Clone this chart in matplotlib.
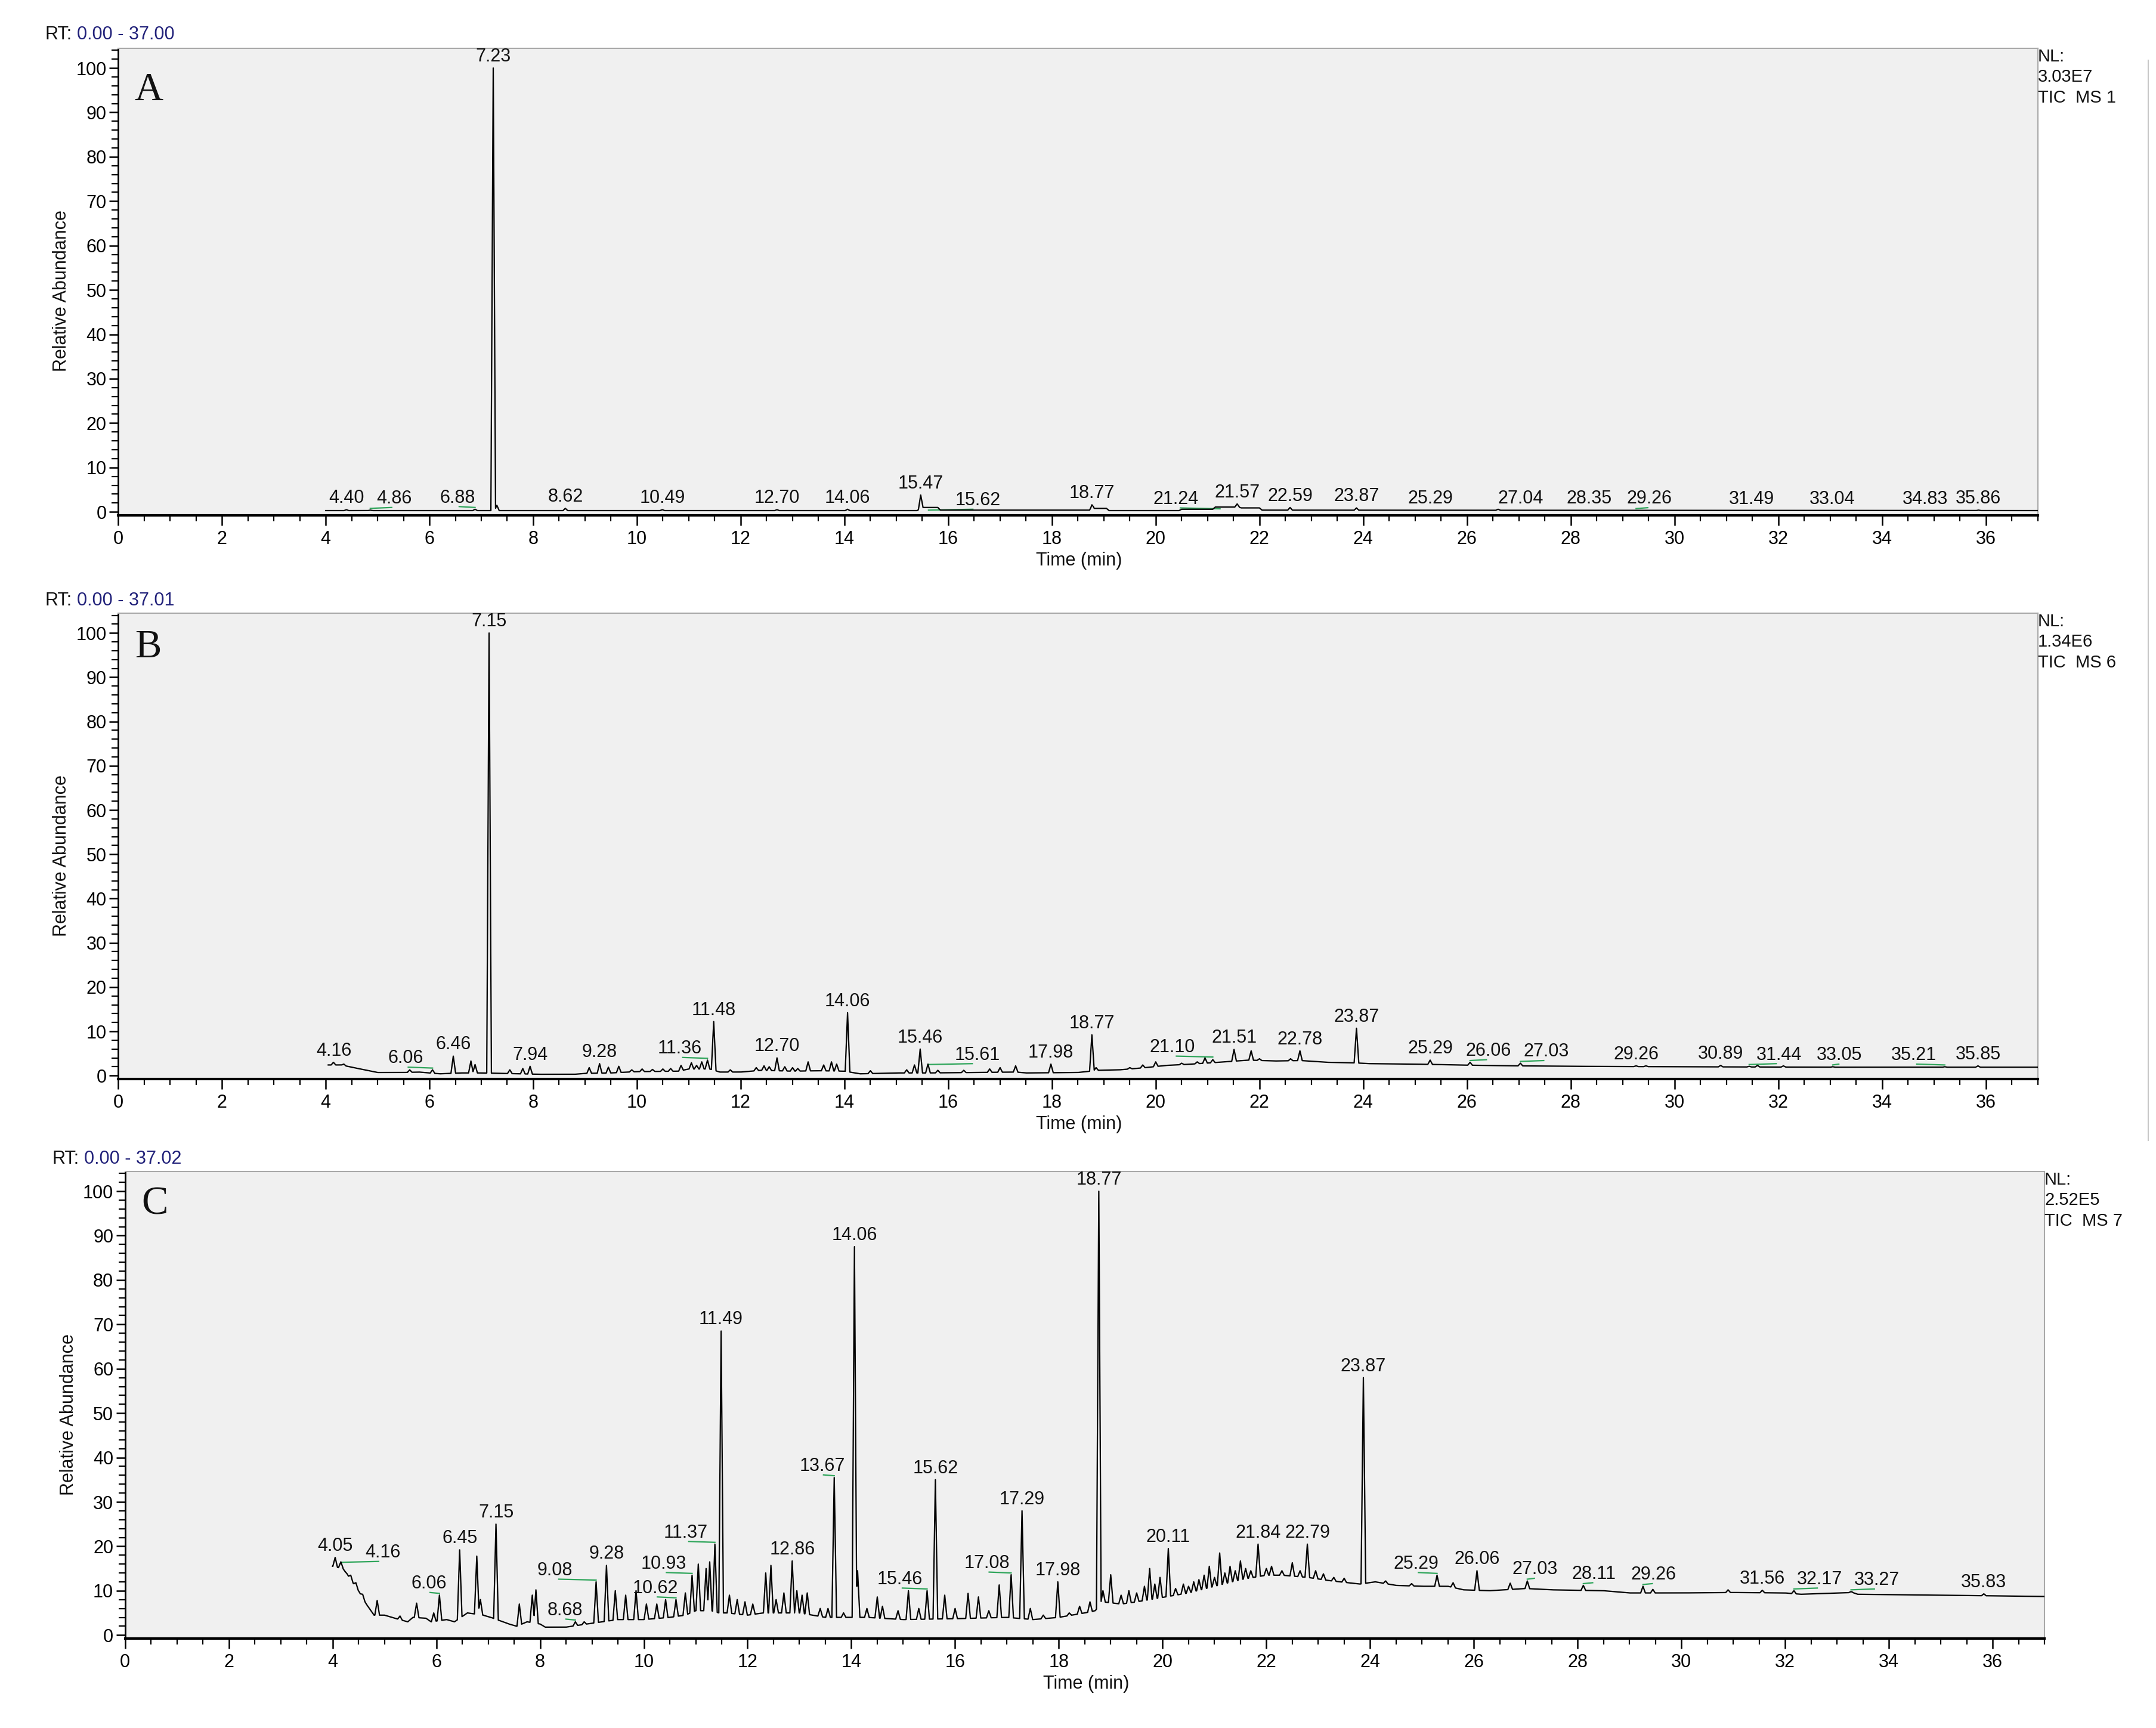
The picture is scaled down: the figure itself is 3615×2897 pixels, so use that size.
"""Three TIC chromatograms (A, B, C), Xcalibur-style layout."""
import numpy as np
import matplotlib
matplotlib.use("Agg")
import matplotlib.pyplot as plt
from matplotlib.ticker import MultipleLocator

plt.rcParams.update({"font.family": ["Liberation Sans", "DejaVu Sans"], "font.size": 22,
                     "text.color": "#111111"})

# ---- data: (time min, relative abundance) ----
a_baseline = [(4.0, 0.3), (15.4, 0.3), (15.5, 1.0), (15.8, 1.0), (15.85, 0.4), (18.75, 0.4),
              (18.8, 0.8), (19.05, 0.8), (19.1, 0.3), (20.45, 0.3), (20.5, 0.6), (21.1, 0.6),
              (21.15, 1.1), (21.6, 1.1), (21.65, 0.9), (22.0, 0.9), (22.05, 0.4), (37.0, 0.3)]
a_peaks = [(4.40, 0.5), (4.86, 0.4), (6.88, 0.6), (7.23, 100), (7.30, 1.5), (8.62, 0.8),
           (10.49, 0.5), (12.70, 0.5), (14.06, 0.6), (15.47, 3.8), (18.77, 1.6), (21.57, 1.8),
           (22.59, 1.0), (23.87, 0.9), (26.6, 0.6), (35.86, 0.4)]
a_labels = ["4.40", "4.86", "6.88", "7.23", "8.62", "10.49", "12.70", "14.06", "15.47", "15.62",
            "18.77", "21.24", "21.57", "22.59", "23.87", "25.29", "27.04", "28.35", "29.26",
            "31.49", "33.04", "34.83", "35.86"]

b_baseline = [(4.05, 2.4), (4.3, 2.4), (4.5, 1.9), (4.75, 1.3), (5.0, 0.7), (5.5, 0.7), (5.8, 0.8),
              (6.2, 0.4), (6.6, 0.6), (7.0, 0.6), (7.4, 0.5), (8.1, 0.3), (8.8, 0.3), (9.0, 0.5),
              (9.5, 0.6), (10.0, 0.9), (10.8, 1.0), (11.0, 1.5), (11.4, 1.5), (11.6, 0.8),
              (12.0, 0.8), (12.4, 1.2), (13.0, 1.0), (13.5, 1.1), (14.0, 1.0), (14.3, 0.4),
              (15.0, 0.6), (15.6, 0.6), (16.5, 0.7), (17.3, 0.8), (17.5, 0.6), (18.5, 0.7),
              (18.9, 1.2), (19.3, 1.3), (19.8, 1.8), (20.2, 2.3), (20.7, 2.6), (21.2, 3.0),
              (21.8, 3.5), (22.3, 3.3), (22.8, 3.4), (23.3, 3.0), (23.8, 2.9), (24.1, 2.7),
              (25.0, 2.6), (25.8, 2.4), (26.3, 2.3), (27.0, 2.2), (28.0, 2.1), (30.0, 2.0),
              (33.0, 1.9), (37.0, 1.9)]
b_peaks = [(4.15, 3.0), (4.35, 2.6), (5.62, 1.3), (6.06, 1.3), (6.46, 4.4), (6.8, 3.3),
           (6.88, 2.5), (7.15, 100), (7.55, 1.3), (7.8, 1.6), (7.94, 2.1), (9.08, 1.8),
           (9.28, 2.7), (9.45, 1.9), (9.65, 2.1), (9.9, 1.3), (10.1, 1.5), (10.3, 1.4),
           (10.5, 1.5), (10.65, 1.6), (10.85, 2.3), (11.05, 2.9), (11.15, 2.3), (11.25, 3.1),
           (11.36, 3.5), (11.48, 12.2), (11.8, 1.3), (12.3, 1.8), (12.45, 2.2), (12.55, 2.0),
           (12.70, 4.0), (12.85, 2.0), (13.0, 1.8), (13.1, 1.6), (13.3, 3.1), (13.6, 2.4),
           (13.75, 3.1), (13.85, 2.6), (14.06, 14.2), (14.5, 1.1), (15.2, 1.3), (15.35, 2.4),
           (15.46, 6.0), (15.61, 2.6), (15.8, 1.2), (16.3, 1.2), (16.8, 1.5), (17.0, 1.8),
           (17.3, 2.2), (17.98, 2.6), (18.77, 9.2), (18.85, 1.8), (19.5, 1.8), (19.75, 2.4),
           (20.0, 3.1), (20.5, 2.8), (20.8, 3.1), (20.95, 4.0), (21.10, 3.6), (21.51, 5.9),
           (21.84, 5.6), (22.0, 3.8), (22.6, 3.8), (22.78, 5.6), (23.87, 10.7), (25.29, 3.5),
           (26.06, 3.0), (27.03, 2.8), (29.26, 2.2), (29.45, 2.2), (30.89, 2.3), (31.44, 2.1),
           (31.6, 2.3), (32.1, 2.2), (33.05, 2.0), (35.21, 2.0), (35.85, 2.2)]
b_labels = ["4.16", "6.06", "6.46", "7.15", "7.94", "9.28", "11.36", "11.48", "12.70", "14.06",
            "15.46", "15.61", "17.98", "18.77", "21.10", "21.51", "22.78", "23.87", "25.29",
            "26.06", "27.03", "29.26", "30.89", "31.44", "33.05", "35.21", "35.85"]

c_baseline = [(4.0, 15.5), (4.2, 15.0), (4.35, 12.5), (4.5, 10.0), (4.65, 7.0), (4.8, 4.5),
              (5.0, 4.5), (5.2, 3.8), (5.45, 3.0), (5.55, 4.0), (5.8, 3.8), (5.9, 3.0),
              (6.2, 3.5), (6.35, 3.0), (6.6, 5.0), (6.9, 4.5), (7.05, 4.0), (7.4, 2.5),
              (7.55, 2.0), (7.75, 3.0), (8.0, 2.5), (8.1, 1.8), (8.5, 1.8), (8.9, 2.5),
              (9.5, 3.5), (10.0, 3.5), (10.5, 4.0), (10.8, 4.5), (11.0, 5.5), (11.3, 5.5),
              (11.45, 5.0), (11.6, 5.0), (12.0, 4.5), (12.3, 5.0), (13.0, 5.0), (13.5, 4.0),
              (14.3, 4.0), (15.0, 3.5), (16.0, 3.7), (17.0, 4.0), (17.5, 3.5), (18.0, 4.0),
              (18.5, 5.0), (18.7, 5.5), (18.85, 7.5), (19.2, 7.0), (19.5, 7.5), (20.0, 8.5),
              (20.5, 9.5), (21.0, 11.0), (21.5, 12.5), (22.0, 13.5), (22.3, 13.5), (22.8, 13.0),
              (23.2, 12.3), (23.8, 11.5), (24.1, 12.0), (24.5, 11.2), (25.0, 11.0), (25.5, 11.0),
              (25.8, 10.2), (26.3, 10.0), (27.0, 10.5), (27.5, 10.2), (28.5, 10.0), (29.0, 9.5),
              (30.0, 9.5), (31.0, 9.6), (32.0, 9.5), (32.3, 9.2), (33.3, 9.6), (33.4, 9.2),
              (35.0, 9.0), (37.0, 8.7)]
c_peaks = [(4.05, 17.5), (4.16, 16.5), (4.28, 13.8), (4.35, 13.5), (4.45, 11.8), (4.58, 9.2),
           (4.86, 7.8), (5.3, 4.3), (5.62, 7.2), (5.95, 5.0),
           (6.06, 9.0), (6.45, 19.2), (6.78, 17.8), (6.85, 8.0), (7.15, 25.0), (7.6, 7.0),
           (7.85, 9.0), (7.92, 10.2), (8.68, 3.0), (8.85, 3.0), (9.08, 12.0), (9.28, 15.7),
           (9.45, 10.0), (9.65, 9.0), (9.85, 10.0), (10.05, 7.0), (10.25, 7.0), (10.42, 8.0),
           (10.62, 8.0), (10.8, 9.5), (10.93, 13.5), (11.05, 16.0), (11.2, 15.0), (11.27, 16.5),
           (11.37, 20.5), (11.49, 68.5), (11.65, 9.0), (11.8, 8.0), (11.95, 7.5), (12.1, 7.0),
           (12.35, 14.0), (12.45, 15.7), (12.55, 8.0), (12.7, 9.5), (12.86, 16.7), (12.95, 10.0),
           (13.05, 9.0), (13.15, 9.5), (13.4, 6.0), (13.55, 6.0), (13.67, 35.5), (13.85, 5.0),
           (14.06, 87.5), (14.12, 14.5), (14.3, 6.0), (14.5, 8.6), (14.6, 6.5), (14.9, 5.5),
           (15.1, 10.0), (15.3, 6.0), (15.46, 10.0), (15.62, 35.0), (15.8, 9.0), (16.0, 6.0),
           (16.25, 9.4), (16.45, 8.6), (16.65, 5.5), (16.85, 11.3), (17.08, 13.6), (17.29, 28.0),
           (17.45, 6.0), (17.7, 4.5), (17.98, 12.0), (18.2, 5.0), (18.4, 6.5), (18.6, 7.5),
           (18.77, 100), (18.85, 10.0), (19.0, 13.6), (19.2, 9.0), (19.35, 10.0), (19.5, 9.5),
           (19.65, 11.0), (19.75, 15.0), (19.85, 11.5), (19.95, 13.0), (20.11, 19.5),
           (20.25, 10.5), (20.4, 11.5), (20.5, 11.0), (20.6, 12.0), (20.7, 12.5), (20.8, 13.5),
           (20.9, 15.5), (21.0, 13.0), (21.1, 18.5), (21.2, 14.0), (21.3, 15.5), (21.4, 14.5),
           (21.5, 16.7), (21.6, 15.0), (21.7, 14.5), (21.84, 20.5), (22.0, 15.0), (22.1, 15.5),
           (22.3, 14.5), (22.5, 16.3), (22.65, 14.5), (22.79, 20.5), (22.95, 14.5),
           (23.1, 13.8), (23.3, 13.0), (23.5, 12.8), (23.87, 58.0), (24.3, 12.2), (24.8, 11.6),
           (25.29, 13.5), (25.6, 11.8), (26.06, 14.5), (26.7, 11.7), (27.03, 12.2),
           (28.11, 11.2), (29.26, 11.0), (29.45, 10.3), (30.9, 10.2), (31.56, 10.1),
           (32.17, 10.0), (33.27, 9.8), (35.83, 9.3)]
c_labels = ["4.05", "4.16", "6.06", "6.45", "7.15", "8.68", "9.08", "9.28", "10.62", "10.93",
            "11.37", "11.49", "12.86", "13.67", "14.06", "15.46", "15.62", "17.08", "17.29",
            "17.98", "18.77", "20.11", "21.84", "22.79", "23.87", "25.29", "26.06", "27.03",
            "28.11", "29.26", "31.56", "32.17", "33.27", "35.83"]

rt_ranges = ["0.00 - 37.00", "0.00 - 37.01", "0.00 - 37.02"]
nl_info = ["NL:\n3.03E7\nTIC  MS 1", "NL:\n1.34E6\nTIC  MS 6", "NL:\n2.52E5\nTIC  MS 7"]
panel_names = ["A", "B", "C"]

# ---- layout: label shifts (dx min, dy %) where the software moved a label aside ----
shifts = [
    {"4.86": (0.46, 0), "6.88": (-0.34, 0), "15.62": (0.95, -1.0), "21.24": (-0.85, -0.8),
     "29.26": (0.25, 0)},
    {"6.06": (-0.52, 0), "11.36": (-0.53, 0), "15.61": (0.95, -0.5), "21.10": (-0.78, 0.2),
     "26.06": (0.35, 0), "27.03": (0.5, 0), "31.44": (0.58, 0), "33.05": (0.13, 0),
     "35.21": (-0.6, 0)},
    {"4.16": (0.81, -0.5), "6.06": (-0.2, 0), "8.68": (-0.2, 0), "9.08": (-0.8, 0),
     "10.62": (-0.4, 0), "10.93": (-0.55, 0), "11.37": (-0.56, 0), "13.67": (-0.23, 0),
     "15.46": (-0.53, 0), "17.08": (-0.47, 0), "25.29": (-0.4, 0), "27.03": (0.15, 0),
     "28.11": (0.2, 0), "29.26": (0.2, 0), "32.17": (0.5, 0), "33.27": (0.5, 0)},
]
boxes = [[0.0548, 0.7017, 0.8903, 0.2705],
         [0.0548, 0.3755, 0.8903, 0.2697],
         [0.0580, 0.0517, 0.8903, 0.2705]]
rt_pos = [(0.0210, 0.9801), (0.0210, 0.6523), (0.0242, 0.3294)]
letter_y = [0.909, 0.926, 0.929]


def build_trace(baseline, peaks, w=0.045):
    bt, by = np.array(baseline).T
    pr, ph = np.array(peaks).T
    t = np.union1d(np.round(np.arange(bt[0], bt[-1], 0.005), 3), pr)
    b = np.interp(t, bt, by)
    y = b.copy()
    for r, h in zip(pr, ph):
        rise = (h - np.interp(r, bt, by)) * np.clip(1 - np.abs(t - r) / w, 0, None)
        y = np.maximum(y, b + rise)
    return t, y


fig = plt.figure(figsize=(36.15, 28.97), dpi=100)
green = "#2ea55a"
panels = [(a_baseline, a_peaks, a_labels), (b_baseline, b_peaks, b_labels),
          (c_baseline, c_peaks, c_labels)]

for i, (base, peaks, labels) in enumerate(panels):
    ax = fig.add_axes(boxes[i])
    ax.set_facecolor("#f0f0f0")
    t, y = build_trace(base, peaks)
    ax.plot(t, y, color="black", lw=1.6, zorder=3)

    for s in labels:
        rt = float(s)
        apex = y[np.abs(t - rt) <= 0.03].max()
        dx, dy = shifts[i].get(s, (0, 0))
        ax.annotate(s, (rt + dx, apex + dy), xytext=(0, 8), textcoords="offset points",
                    ha="center", va="baseline", fontsize=22, zorder=4)
        if dx:
            ax.plot([rt, rt + dx * 0.9], [apex + dy + 0.4, apex + dy + 0.6], color=green,
                    lw=1.6, zorder=2)

    ax.set_xlim(0, 37)
    ax.set_ylim(-0.8, 104.5)
    ax.xaxis.set_major_locator(MultipleLocator(2))
    ax.xaxis.set_minor_locator(MultipleLocator(0.5))
    ax.set_yticks(range(0, 101, 10))
    ax.yaxis.set_minor_locator(MultipleLocator(2))
    ax.tick_params(axis="x", which="major", length=12, width=1.8, pad=6, labelsize=22)
    ax.tick_params(axis="x", which="minor", length=7, width=1.6)
    ax.tick_params(axis="y", which="major", length=11, width=1.8, pad=3, labelsize=22)
    ax.tick_params(axis="y", which="minor", length=8, width=1.6)
    for sp in ["top", "right"]:
        ax.spines[sp].set_color("#a8a8a8")
        ax.spines[sp].set_linewidth(1.5)
    ax.spines["left"].set_linewidth(2.0)
    ax.spines["bottom"].set_linewidth(3.0)

    ax.text(0.0086, letter_y[i], panel_names[i], transform=ax.transAxes, ha="left",
            va="center", fontsize=48, family=["Liberation Serif", "DejaVu Serif"])
    ax.text(-0.0294, 0.48, "Relative Abundance", transform=ax.transAxes, rotation=90,
            ha="center", va="center", fontsize=22)
    ax.text(0.5007, -0.097, "Time (min)", transform=ax.transAxes, ha="center",
            va="center", fontsize=22)
    ax.text(1.0, 1.0, nl_info[i], transform=ax.transAxes, ha="left", va="top",
            fontsize=21, linespacing=1.3)

    rx, ry = rt_pos[i]
    lead = fig.text(rx, ry, "RT:", ha="left", va="center", fontsize=22)
    ax.annotate(rt_ranges[i], xy=(1, 0), xycoords=lead, xytext=(6, 0),
                textcoords="offset points", ha="left", va="bottom", fontsize=22,
                color="#22227a", annotation_clip=False)

fig.add_artist(plt.Line2D([0.9965, 0.9965], [0.34, 0.965], transform=fig.transFigure,
                          color="#c8c8c8", lw=1.5))

fig.savefig("out.png", dpi=100)
